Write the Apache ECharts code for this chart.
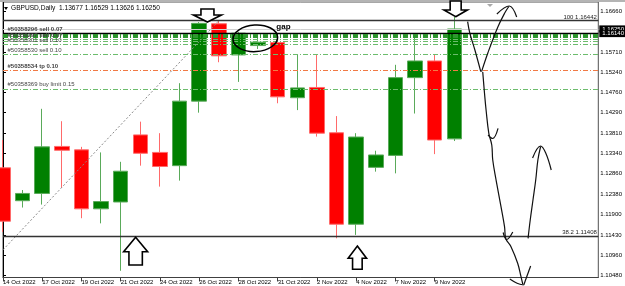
<!DOCTYPE html>
<html>
<head>
<meta charset="utf-8">
<script src="https://cdn.jsdelivr.net/npm/echarts@6/dist/echarts.min.js"></script>
<style>
html,body{margin:0;padding:0;background:#fff}
#main{width:625px;height:286px}
</style>
</head>
<body>
<div id="main"></div>
<script>
// daily bars (MT4 broker with sunday bars)
var dates = ['14 Oct 2022','16 Oct 2022','17 Oct 2022','18 Oct 2022','19 Oct 2022','20 Oct 2022','21 Oct 2022',
  '23 Oct 2022','24 Oct 2022','25 Oct 2022','26 Oct 2022','27 Oct 2022','28 Oct 2022','30 Oct 2022',
  '31 Oct 2022','1 Nov 2022','2 Nov 2022','3 Nov 2022','4 Nov 2022','6 Nov 2022','7 Nov 2022',
  '8 Nov 2022','9 Nov 2022','10 Nov 2022'];
var opens  = [1.1300,1.1223,1.1240,1.1350,1.1342,1.1204,1.1220,1.1377,1.1336,1.1305,1.1456,1.1637,
  1.1564,1.1586,1.1593,1.1464,1.1488,1.1382,1.1168,1.1301,1.1329,1.1511,1.1550,1.13677];
var highs  = [1.1365,1.1248,1.1438,1.1409,1.1349,1.1336,1.1314,1.1408,1.1381,1.1498,1.1641,1.1644,
  1.1618,1.1608,1.1594,1.1564,1.1564,1.1421,1.1381,1.1340,1.1541,1.1611,1.1566,1.16529];
var lows   = [1.1150,1.1207,1.1214,1.1253,1.1182,1.1170,1.1059,1.1305,1.1256,1.1270,1.1429,1.1547,
  1.1501,1.1578,1.1451,1.1435,1.1373,1.1135,1.1143,1.1291,1.1287,1.1427,1.1332,1.13626];
var closes = [1.1175,1.1240,1.1349,1.1341,1.1204,1.1221,1.1292,1.1334,1.1303,1.1456,1.1638,1.1562,
  1.1615,1.1594,1.1466,1.1487,1.1381,1.1168,1.1372,1.1330,1.1511,1.1550,1.1365,1.16250];

var dateTicks = [0,2,4,6,8,10,12,14,16,18,20,22];
var priceTicks = [1.10480,1.10960,1.11430,1.11900,1.12380,1.12860,1.13340,1.13810,1.14290,1.14760,1.15240,1.15710,1.16660];

// fibo
var fibLevels = [1.16442, 1.11408];
var fibNames = ['100 1.16442', '38.2 1.11408'];
var fibTrend = [[0, 1.1108], [11, 1.16442]];

// trade lines
var orderLevels = [1.16140,1.16117,1.16093,1.16070,1.16047,1.16007,1.15951,1.15897,1.15651,1.15272,1.14848];
var orderKinds  = ['black','dark','dark','dark','dark','green','green','green','green','orange','green'];
var orderNames  = ['#50358296 sell 0.07','','','','','#50358297 sell 0.07','','#50358301 sell 0.10',
  '#50358530 sell 0.10','#50358534 tp 0.10','#50358369 buy limit 0.15'];
var boldNames = [0, 5, 9];
var bidPrice = 1.16250, markPrice = 1.16140;

// hand drawn pen strokes [bar index, price]
var strokes = [
  [[23.68,1.16419],[23.79,1.16154],[24.05,1.15756],[24.35,1.15249]],
  [[24.39,1.15249],[24.71,1.15686],[25.22,1.16295],[25.57,1.16622],[25.78,1.16774]],
  [[25.17,1.16599],[25.80,1.16786],[26.18,1.16529]],
  [[24.45,1.15242],[24.54,1.14743],[24.62,1.14352],[24.76,1.13807],[24.91,1.13533],[24.96,1.13182],
   [25.13,1.12714],[25.38,1.12090],[25.56,1.11622],[25.62,1.11350],[25.89,1.11154],[26.23,1.10765],
   [26.40,1.10452],[26.49,1.10281]],
  [[24.72,1.13767],[24.95,1.13686],[25.23,1.13924]],
  [[25.49,1.11486],[25.67,1.11322],[25.98,1.11498]],
  [[25.83,1.10398],[26.20,1.10300],[26.54,1.10257]],
  [[26.54,1.10257],[26.89,1.10702]],
  [[26.76,1.11350],[26.87,1.11778],[27.01,1.12246],[27.15,1.12714],[27.26,1.13182],[27.40,1.13498]],
  [[26.99,1.13229],[27.40,1.13510],[27.66,1.13346],[27.94,1.12948]]
];
var arrowMarks = [
  {at: [10.42, 1.16412], dir: 'down', head: [14, 7], shaft: [6.5, 6]},
  {at: [23.07, 1.16536], dir: 'down', head: [11.7, 6.7], shaft: [5.5, 9]},
  {at: [6.76, 1.11374], dir: 'up', head: [12, 14.4], shaft: [6.7, 13.3]},
  {at: [18.06, 1.11170], dir: 'up', head: [9.2, 12.3], shaft: [4.8, 11]}
];
var gapCenter = [12.86, 1.16030];

var FONT = 'Liberation Sans';
var chart = echarts.init(document.getElementById('main'));

var candles = [];
for (var i = 0; i < dates.length; i++) {
  candles.push([i, opens[i], closes[i], lows[i], highs[i]]);
}

function kindStyle(kind) {
  if (kind === 'black') return {color: '#000', type: 'solid', width: 1.3};
  if (kind === 'orange') return {color: '#f07a45', type: [5, 2, 1, 2], width: 1};
  if (kind === 'dark') return {color: '#2f962f', type: [5, 2, 1, 2], width: 1.2};
  return {color: '#6cbc6c', type: [5, 2, 1, 2], width: 1};
}

var lines = [];
fibLevels.forEach(function (v, k) {
  lines.push({yAxis: v, lineStyle: {color: '#333', width: 1.4, type: 'solid'},
    label: {show: true, position: 'insideEndTop', distance: [1.5, 0.5], formatter: fibNames[k],
      fontSize: 6, color: '#222', fontFamily: FONT}});
});
lines.push({yAxis: bidPrice, lineStyle: {color: '#d0d0d0', width: 1, type: 'solid'}});
orderLevels.forEach(function (v, k) {
  var item = {yAxis: v, lineStyle: kindStyle(orderKinds[k])};
  if (orderNames[k]) {
    item.label = {show: true, position: 'insideStartTop', distance: [4.5, 1], formatter: orderNames[k],
      fontSize: 6, color: '#444', fontFamily: FONT,
      fontWeight: boldNames.indexOf(k) >= 0 ? 'bold' : 'normal'};
  }
  lines.push(item);
});
[bidPrice, markPrice].forEach(function (v) {
  lines.push({yAxis: v, lineStyle: {color: 'rgba(0,0,0,0)', width: 0},
    label: {show: true, position: 'end', distance: 1, formatter: v.toFixed(5),
      backgroundColor: '#000', color: '#fff', fontSize: 6, fontFamily: FONT, padding: [0.5, 3, 0.5, 3]}});
});

var series = [
  {
    type: 'candlestick',
    data: candles,
    barWidth: 15,
    clip: true,
    itemStyle: {color: '#008000', color0: '#ff0000', borderColor: '#5aaa5a', borderColor0: '#ff6a6a', borderWidth: 1}
  },
  {
    type: 'line',
    data: fibTrend,
    symbol: 'none',
    lineStyle: {color: '#8a8a8a', width: 1, type: [2, 2]},
    z: 3,
    markLine: {symbol: ['none', 'none'], silent: true, precision: 5, label: {show: false}, data: lines, animation: false}
  }
];
strokes.forEach(function (s) {
  series.push({type: 'line', data: s, smooth: 0.4, symbol: 'none', clip: false, silent: true, z: 10,
    lineStyle: {color: '#111', width: 1.2}});
});

chart.setOption({
  animation: false,
  backgroundColor: '#fff',
  title: {
    text: 'GBPUSD,Daily  1.13677 1.16529 1.13626 1.16250',
    left: 11, top: 5, padding: 0,
    textStyle: {fontSize: 6.6, fontWeight: 'normal', color: '#000', fontFamily: FONT}
  },
  grid: {left: 2, right: 26.3, top: 2, bottom: 8.5, show: true, borderColor: '#505050', borderWidth: 1},
  xAxis: {
    type: 'value', min: 0, max: 30.34,
    splitLine: {show: false},
    axisLine: {show: true, lineStyle: {color: '#404040'}},
    axisTick: {show: true, customValues: dateTicks, length: 4, lineStyle: {color: '#404040'}},
    axisLabel: {customValues: dateTicks, align: 'left', margin: 2, fontSize: 6, color: '#000', fontFamily: FONT,
      formatter: function (v) { return dates[Math.round(v)]; }}
  },
  yAxis: {
    type: 'value', position: 'right', min: 1.10433, max: 1.168796, scale: true,
    splitLine: {show: false},
    axisLine: {show: true, lineStyle: {color: '#000'}},
    axisTick: {show: true, customValues: priceTicks, length: 3, lineStyle: {color: '#000'}},
    axisLabel: {customValues: priceTicks, margin: 2, fontSize: 6, color: '#000', fontFamily: FONT,
      formatter: function (v) { return v.toFixed(5); }}
  },
  series: series
});

// overlay drawings placed from data coordinates
var graphics = [
  {type: 'rect', shape: {x: 0, y: 0, width: 625, height: 2}, style: {fill: '#b4b4b4'}, z: 100},
  {type: 'polygon', shape: {points: [[4, 7], [8, 7], [6, 10]]}, style: {fill: '#000'}, z: 100},
  {type: 'polygon', shape: {points: [[487, 4], [493, 4], [490, 7]]}, style: {fill: '#a8a8a8'}, z: 100}
];
arrowMarks.forEach(function (a) {
  var t = chart.convertToPixel({gridIndex: 0}, a.at);
  var s = a.dir === 'down' ? -1 : 1;
  var hw = a.head[0], hh = a.head[1], sw = a.shaft[0], sl = a.shaft[1];
  graphics.push({
    type: 'polygon', z: 100,
    shape: {points: [
      [t[0], t[1]], [t[0] + hw, t[1] + s * hh], [t[0] + sw, t[1] + s * hh], [t[0] + sw, t[1] + s * (hh + sl)],
      [t[0] - sw, t[1] + s * (hh + sl)], [t[0] - sw, t[1] + s * hh], [t[0] - hw, t[1] + s * hh]
    ]},
    style: {fill: '#fff', stroke: '#000', lineWidth: 1.6, lineJoin: 'miter'}
  });
});
var g = chart.convertToPixel({gridIndex: 0}, gapCenter);
graphics.push({
  type: 'ellipse', z: 100, x: g[0], y: g[1], rotation: 0.06,
  shape: {cx: 0, cy: 0, rx: 22.3, ry: 13.3},
  style: {fill: null, stroke: '#000', lineWidth: 1.5}
});
graphics.push({
  type: 'text', z: 100, x: g[0] + 21, y: g[1] - 12,
  style: {text: 'gap', fontSize: 8, fontWeight: 'bold', fontFamily: FONT, fill: '#000', verticalAlign: 'middle'}
});
chart.setOption({graphic: graphics});
</script>
</body>
</html>
